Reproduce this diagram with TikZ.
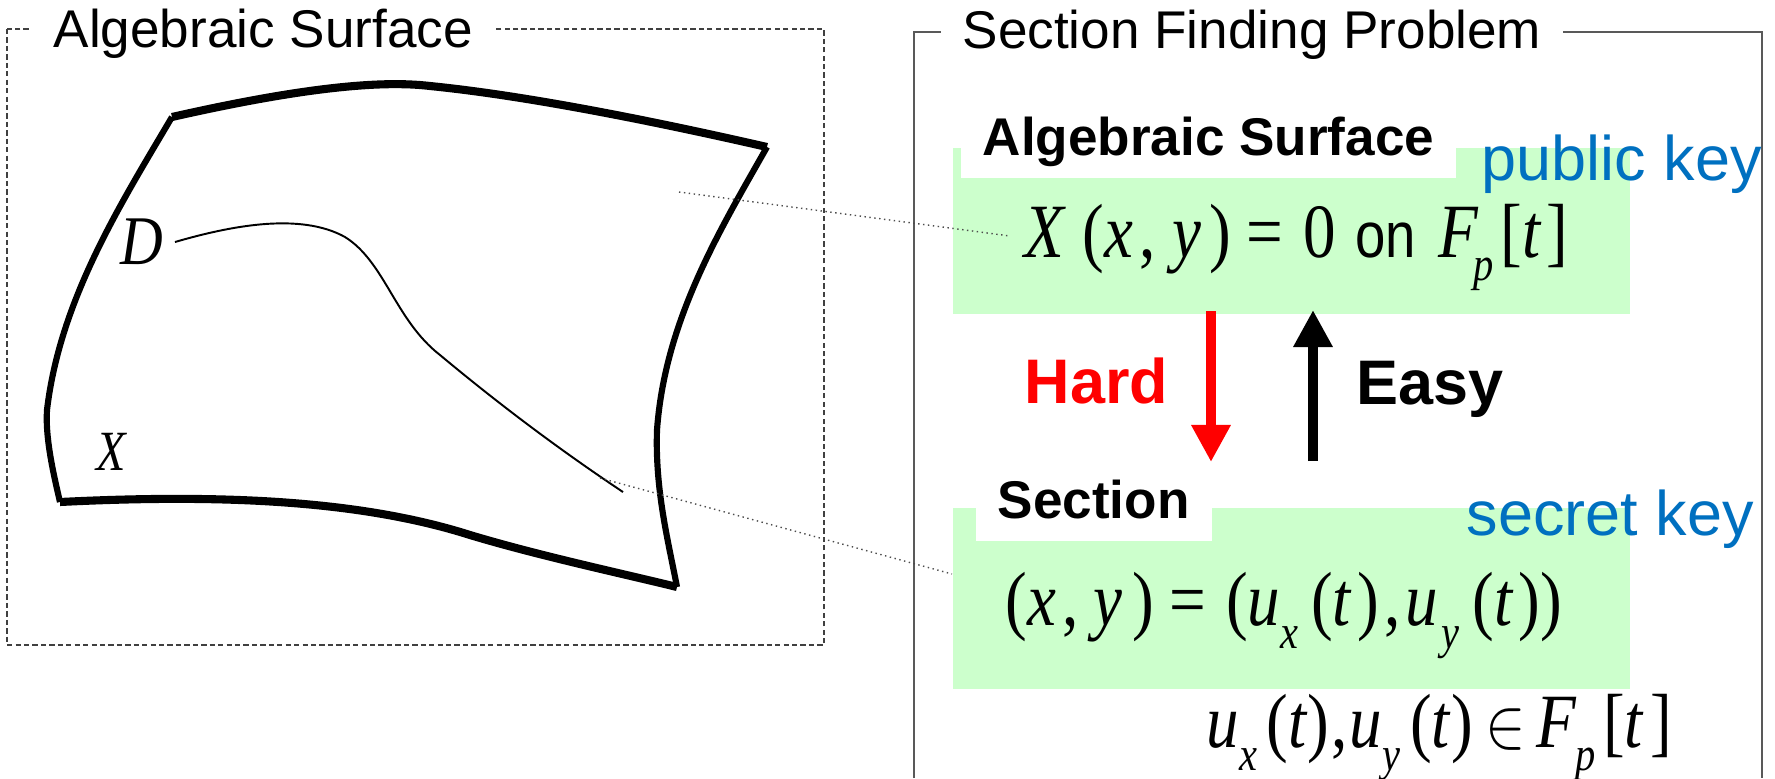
\documentclass[tikz,border=0pt]{standalone}
\usepackage{graphicx}
\usepackage{fontspec}
\setmainfont{Liberation Serif}
\setsansfont{Liberation Sans}
\usetikzlibrary{arrows.meta}
\definecolor{pkgreen}{RGB}{204,255,204}
\definecolor{keyblue}{RGB}{0,112,192}
\definecolor{hardred}{RGB}{255,0,0}
\definecolor{framegray}{gray}{0.35}
\newcommand{\mi}[1]{\textit{#1}}
\newcommand{\msub}[1]{\raisebox{-0.3em}{\fontsize{11.5}{12}\selectfont\itshape #1}}
\newcommand{\sk}[1]{\hspace{#1em}}
\newcommand{\tall}[1]{\scalebox{1}[1.18]{#1}}

\begin{document}
\begin{tikzpicture}[x=0.01cm,y=-0.01cm,
    paneltitle/.style={font=\fontsize{15.1}{16}\selectfont\sffamily,fill=white,
                       inner xsep=0.22cm,inner ysep=0pt,anchor=base west},
    boxtag/.style={font=\fontsize{15.1}{16}\selectfont\sffamily\bfseries,fill=white,
                   inner xsep=0.22cm,inner ysep=0.12cm,text depth=0.11cm,anchor=base west},
    greenbox/.style={rectangle,fill=pkgreen,inner sep=0pt,anchor=north west},
    keytext/.style={font=\fontsize{17.9}{19}\selectfont\sffamily,text=keyblue,
                    inner sep=0pt,anchor=base west},
    dirtext/.style={font=\fontsize{17.9}{19}\selectfont\sffamily\bfseries,
                    inner sep=0pt,anchor=base west},
    eqn/.style={font=\fontsize{18.5}{20}\selectfont\rmfamily,inner sep=0pt,anchor=base west},
    letter/.style={inner sep=0pt,anchor=base west},
    edgethick/.style={line width=2.3pt},
    edgethin/.style={line width=1.75pt},
    leader/.style={densely dotted,line width=0.4pt,black!70},
    bigarrow/.style={line width=3.1pt,-{Triangle[width=0.37cm,length=0.37cm]}}
  ]
  \useasboundingbox (0,0) rectangle (1775,778);

  % left panel: the surface X with the curve D
  \draw[dash pattern=on 1.5pt off 0.9pt,line width=0.4pt,black!75] (7,29) rectangle (824,645);
  \node[paneltitle] (lefttitle) at (31,47) {Algebraic Surface};

  \coordinate (tl) at (172,117);
  \coordinate (tr) at (767,147);
  \coordinate (br) at (677,587);
  \coordinate (bl) at (60,502);
  \draw[edgethick] (tl) .. controls (300,88) and (380,80) .. (430,86)
                        .. controls (520,95) and (640,118) .. (tr);
  \draw[edgethin] (tr) .. controls (720,230) and (665,320) .. (657,430)
                       .. controls (655,490) and (668,540) .. (br);
  \draw[edgethick] (bl) .. controls (220,494) and (360,500) .. (470,535)
                        .. controls (540,556) and (620,573) .. (br);
  \draw[edgethin] (tl) .. controls (120,205) and (60,300) .. (47,410)
                       .. controls (45,440) and (55,480) .. (bl);

  \coordinate (dstart) at (175,242);
  \coordinate (dend) at (623,492);
  \draw[line width=0.55pt] (dstart) .. controls (230,226) and (300,212) .. (345,237)
                                    .. controls (385,262) and (395,320) .. (440,355)
                                    .. controls (500,405) and (560,450) .. (dend);
  \node[letter,font=\fontsize{16.8}{17}\selectfont\itshape] (dlabel) at (120,264) {\tall{D}};
  \node[letter,font=\fontsize{13.7}{14}\selectfont\itshape] (xlabel) at (96,470) {\tall{X}};

  % right panel
  \draw[framegray,line width=0.45pt] (914,778) -- (914,32) -- (1762,32) -- (1762,778);
  \node[paneltitle] (righttitle) at (940,48) {Section Finding Problem};

  \node[greenbox,minimum width=6.77cm,minimum height=1.66cm] (pubbox) at (952,147) {};
  \node[greenbox,minimum width=6.77cm,minimum height=1.81cm] (secbox) at (952,507) {};
  \node[boxtag] (pubtag) at (960,155) {Algebraic Surface};
  \node[boxtag] (sectag) at (975,518) {Section};
  \node[keytext] (pubkey) at (1481,180) {public key};
  \node[keytext] (seckey) at (1466,535) {secret key};

  \node[eqn] (eqA) at (1024,257) {\tall{\mi{X}\sk{0.25}(\mi{x}\sk{0.1},\sk{0.25}\mi{y}\sk{0.12})\sk{0.25}=\sk{0.3}0\sk{0.3}{\fontsize{15.5}{16}\selectfont\sffamily on}\sk{0.35}\mi{F}\sk{-0.08}\msub{p}\sk{0.1}[\mi{t}\sk{0.08}]}};
  \node[eqn] (eqB) at (1005,625) {\tall{(\mi{x}\sk{0.1},\sk{0.22}\mi{y}\sk{0.15})\sk{0.25}=\sk{0.3}(\mi{u}\msub{x}\sk{0.2}(\mi{t}\sk{0.08})\sk{0.08},\sk{0.08}\mi{u}\sk{0.05}\msub{y}\sk{0.2}(\mi{t}\sk{0.08}))}};
  \node[eqn] (eqC) at (1206,747) {\tall{\mi{u}\msub{x}\sk{0.15}(\mi{t})\sk{0.03},\sk{0.03}\mi{u}\msub{y}\sk{0.15}(\mi{t})\sk{0.2}$\in$\sk{0.15}\mi{F}\sk{-0.02}\msub{p}\sk{0.12}[\mi{t}\sk{0.1}]}};

  % leaders from the picture to the formulas
  \coordinate (surfpt) at (679,192);
  \coordinate (curvept) at (600,478);
  \coordinate (eqApt) at (1010,236);
  \coordinate (eqBpt) at (952,574);
  \draw[leader] (surfpt) -- (eqApt);
  \draw[leader] (curvept) -- (eqBpt);

  % hard and easy directions
  \coordinate (hardtop) at (1211,311);
  \coordinate (hardtip) at (1211,462);
  \coordinate (easybot) at (1313,461);
  \coordinate (easytip) at (1313,310);
  \draw[bigarrow,hardred] (hardtop) -- (hardtip);
  \draw[bigarrow] (easybot) -- (easytip);
  \node[dirtext,text=hardred] (hardlbl) at (1024,403) {Hard};
  \node[dirtext] (easylbl) at (1356,404) {Easy};
\end{tikzpicture}
\end{document}
